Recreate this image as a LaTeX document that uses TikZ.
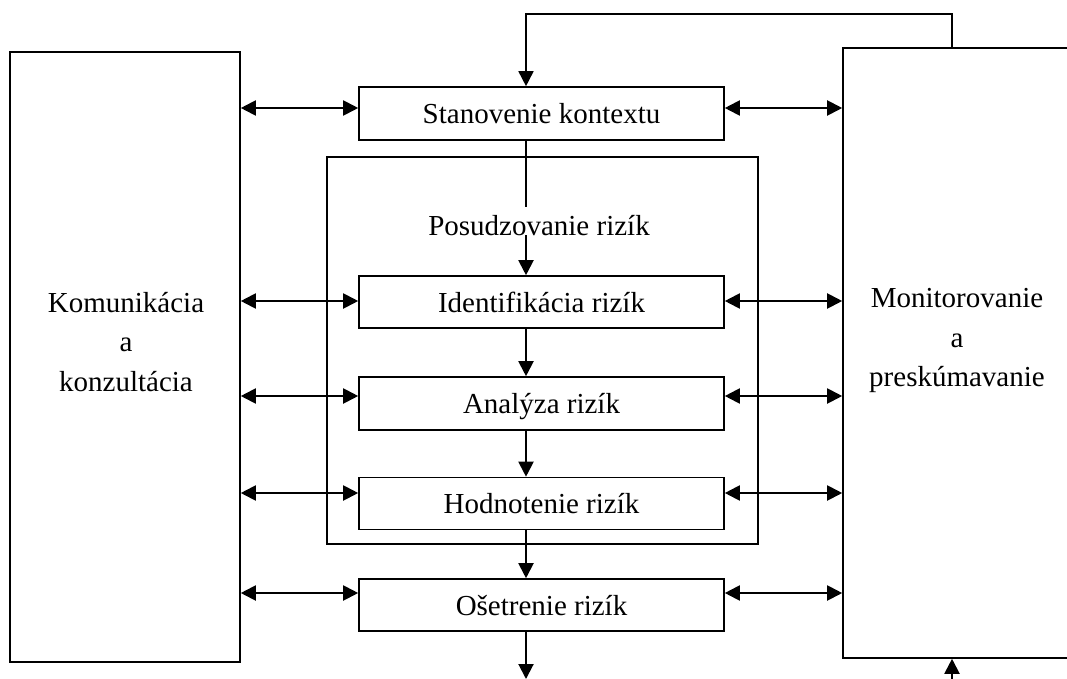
\documentclass[tikz,border=0pt]{standalone}
\usepackage{fontspec}
\setmainfont{Liberation Serif}
\usetikzlibrary{arrows.meta}
\begin{document}
\begin{tikzpicture}[x=1pt,y=-1pt,
  every node/.style={font=\fontsize{29}{39.5}\selectfont},
  frame/.style={draw, line width=1.6pt, inner sep=0pt},
  stepbox/.style={frame, minimum width=365pt, minimum height=52pt, text height=20pt, text depth=0pt},
  conn/.style={line width=2pt},
  tip/.style={-{Triangle[length=15pt,width=15pt]}},
  bitip/.style={{Triangle[length=15pt,width=15pt]}-{Triangle[length=15pt,width=15pt]}}
]
\useasboundingbox (0,0) rectangle (1067,679);
% big side boxes
\node[frame, minimum width=230pt, minimum height=610pt] (L) at (125,357) {};
\node[frame, minimum width=260pt, minimum height=610pt] (M) at (973,353) {};
\node[align=center] (Ltext) at (126,342) {Komunikácia\\a\\konzultácia};
\node[align=center] (Mtext) at (957,340.5) {Monitorovanie\\a\\preskúmavanie};
% inner frame
\node[frame, minimum width=431pt, minimum height=387pt] (P) at (542.5,350.5) {};
\node[anchor=base] (Ptext) at (539,235) {Posudzovanie rizík};
% step boxes
\node[stepbox, minimum height=53pt] (S) at (541.5,113.5) {Stanovenie kontextu};
\node[stepbox] (I) at (541.5,302) {Identifikácia rizík};
\node[stepbox, minimum height=53pt] (A) at (541.5,403.5) {Analýza rizík};
\node[stepbox] (H) at (541.5,503.5) {Hodnotenie rizík};
\node[stepbox] (O) at (541.5,605) {Ošetrenie rizík};
% helper coordinates
\coordinate (v) at (526,0);
\coordinate (fx) at (952,14);
\coordinate (bot) at (952,679);
\coordinate (s1) at ([yshift=5.5pt]S.west);
\coordinate (i1) at ([yshift=1pt]I.west);
\coordinate (a1) at ([yshift=7.5pt]A.west);
\coordinate (h1) at ([yshift=10.5pt]H.west);
\coordinate (o1) at ([yshift=12pt]O.west);
% horizontal double arrows
\foreach \c/\n in {s1/S, i1/I, a1/A, h1/H, o1/O}{
  \draw[conn, bitip] (L.east |- \c) -- (\n.west |- \c);
  \draw[conn, bitip] (\n.east |- \c) -- (M.west |- \c);
}
% vertical flow
\draw[line width=1.6pt] (S.south -| v) -- ++(0,66);
\draw[conn, tip] (v |- Ptext.base) -- (I.north -| v);
\draw[conn, tip] (I.south -| v) -- (A.north -| v);
\draw[conn, tip] (A.south -| v) -- (H.north -| v);
\draw[conn, tip] (H.south -| v) -- (O.north -| v);
\draw[conn, tip] (O.south -| v) -- (v |- bot);
% feedback
\draw[line width=1.6pt, tip] (M.north -| fx) -- (fx) -| (S.north -| v);
\draw[conn, tip] (bot) -- (M.south -| fx);
\end{tikzpicture}
\end{document}
